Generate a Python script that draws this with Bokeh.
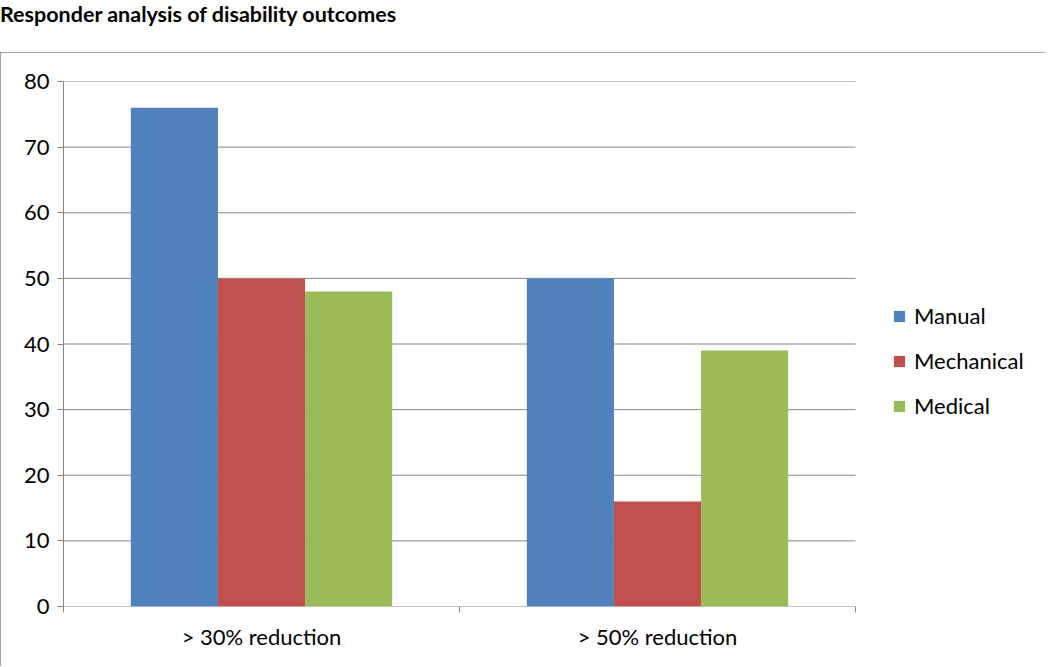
from bokeh.plotting import figure
from bokeh.models import (Range1d, FixedTicker, LinearAxis, Legend, LegendItem,
                          ColumnDataSource, Div, InlineStyleSheet)
from bokeh.layouts import column
from bokeh.embed import file_html
from bokeh.resources import INLINE

title_text = "Responder analysis of disability outcomes"
categories = ["> 30% reduction", "> 50% reduction"]
series = ["Manual", "Mechanical", "Medical"]
manual = [76, 50]
mechanical = [50, 16]
medical = [48, 39]
colors = ["#4F81BD", "#C0504D", "#9BBB59"]
y_ticks = [0, 10, 20, 30, 40, 50, 60, 70, 80]

FONT = "Lato"
GRID = "#868686"
FS = "22px"

# layout constants (pixels)
FIG_W, FIG_H = 1045, 614
LEFT, TOP, BOTTOM, RIGHT = 63, 29, 60, 5
CAT_PX = 396.0  # pixel width of one category
frame_w = FIG_W - LEFT - RIGHT
x_end = frame_w / CAT_PX

title = Div(text=title_text, width=FIG_W, height=52, margin=0,
            styles={"font-family": FONT, "font-weight": "bold", "font-size": "21.5px",
                    "color": "black", "line-height": "28px"})

p = figure(width=FIG_W, height=FIG_H, x_range=Range1d(0, x_end),
           y_range=Range1d(0, 80), output_backend="svg", toolbar_location=None,
           x_axis_type=None, y_axis_type=None,
           min_border_left=LEFT, min_border_right=RIGHT, min_border_top=TOP,
           min_border_bottom=BOTTOM, margin=0)
p.outline_line_color = None
p.background_fill_color = "white"
p.border_fill_color = "white"
p.xgrid.visible = False
p.ygrid.visible = False
p.stylesheets = [InlineStyleSheet(css=":host { outline: 1.5px solid #868686; outline-offset: -1.5px; }")]

# gridlines only across the category area
n = len(categories)
p.segment(x0=[0] * len(y_ticks), x1=[n] * len(y_ticks), y0=y_ticks, y1=y_ticks,
          line_color=GRID, line_width=1)

# y axis
yaxis = LinearAxis(ticker=FixedTicker(ticks=y_ticks, minor_ticks=[]))
yaxis.axis_line_color = GRID
yaxis.major_tick_line_color = GRID
yaxis.major_tick_out = 6
yaxis.major_tick_in = 0
yaxis.minor_tick_line_color = None
yaxis.major_label_text_font = FONT
yaxis.major_label_text_font_size = FS
yaxis.major_label_text_color = "black"
yaxis.major_label_standoff = 8
p.add_layout(yaxis, "left")

# x axis: labels at category centers, ticks at boundaries
centers = [i + 0.5 for i in range(n)]
bounds = [i for i in range(n + 1)]
xaxis = LinearAxis(ticker=FixedTicker(ticks=centers, minor_ticks=bounds))
xaxis.major_label_overrides = {c: lab for c, lab in zip(centers, categories)}
xaxis.axis_line_color = None
xaxis.major_tick_line_color = None
xaxis.minor_tick_line_color = GRID
xaxis.minor_tick_out = 6
xaxis.minor_tick_in = 0
xaxis.major_label_text_font = FONT
xaxis.major_label_text_font_size = FS
xaxis.major_label_text_color = "black"
xaxis.major_label_standoff = 10
p.add_layout(xaxis, "below")

bw = 0.22
items = []
for k, (name, vals, col) in enumerate(zip(series, [manual, mechanical, medical], colors)):
    xs = [c + (k - 1) * bw for c in centers]
    src = ColumnDataSource(dict(x=xs, top=vals))
    r = p.vbar(x="x", top="top", width=bw, bottom=0, source=src,
               fill_color=col, line_color=None)
    items.append(LegendItem(label=name, renderers=[r]))

legend = Legend(items=items, location=(829, 187))
legend.glyph_width = 14
legend.glyph_height = 14
legend.label_height = 20
legend.spacing = 18
legend.padding = 0
legend.margin = 0
legend.label_standoff = 8
legend.label_text_font = FONT
legend.label_text_font_size = FS
legend.label_text_color = "black"
legend.border_line_color = None
legend.background_fill_alpha = 0
p.add_layout(legend)

layout = column(title, p, spacing=0, margin=0)
open("out.html", "w").write(file_html(layout, INLINE))
